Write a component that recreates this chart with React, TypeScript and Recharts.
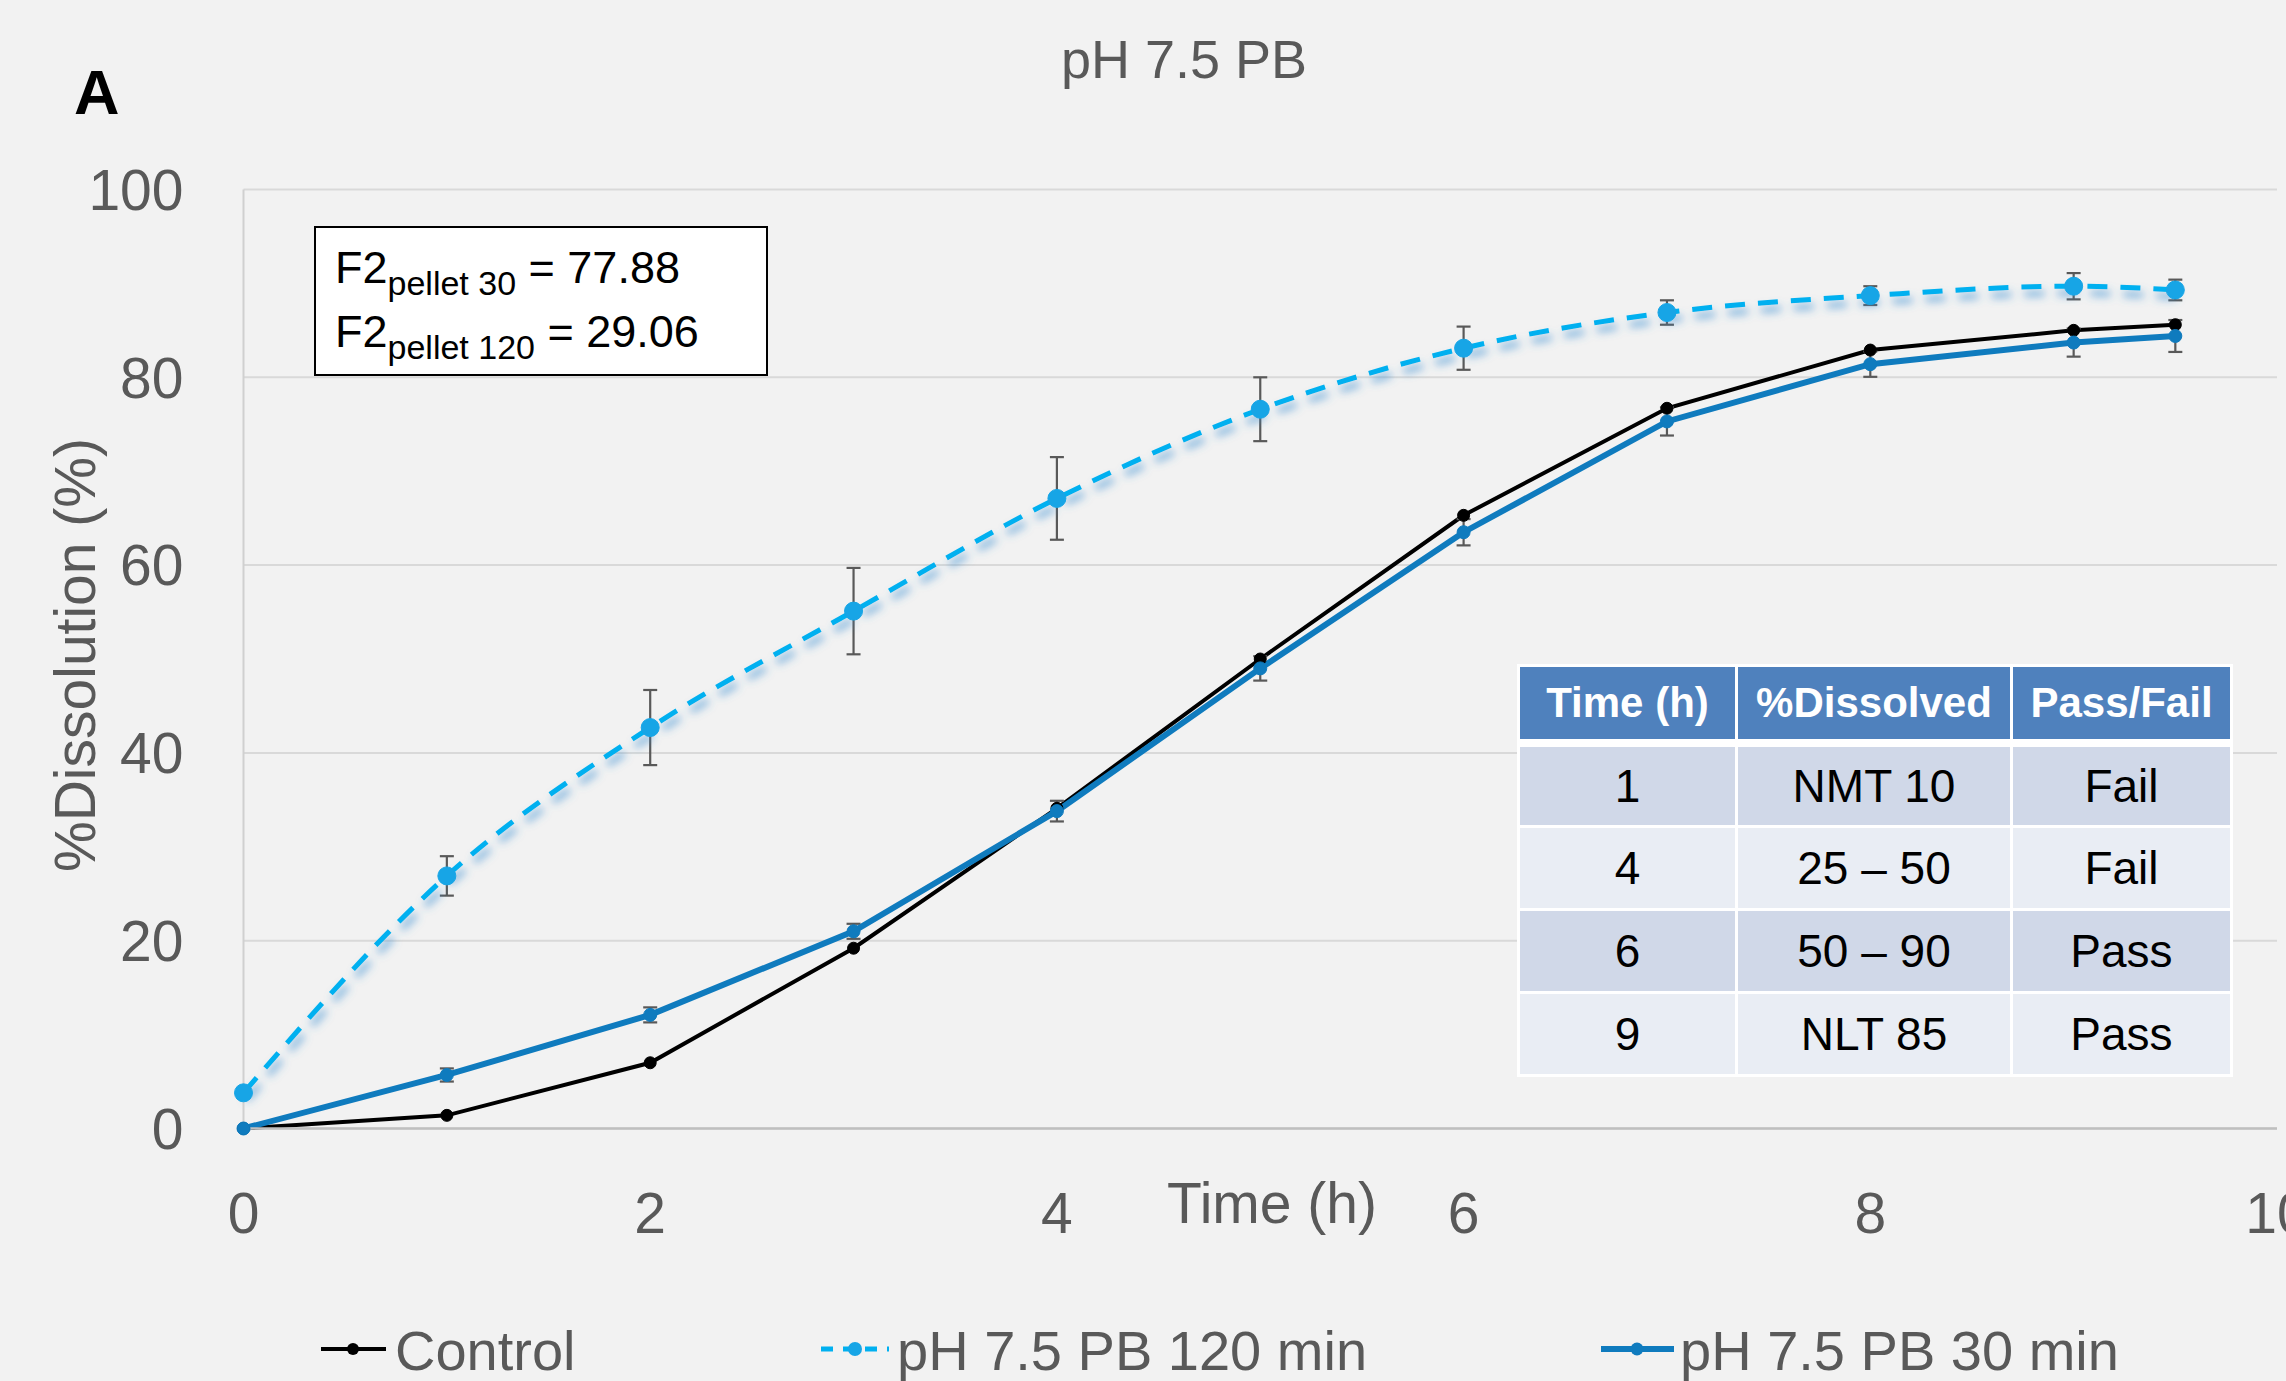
import React from "react";
import {
  LineChart,
  Line,
  XAxis,
  YAxis,
  CartesianGrid,
  ErrorBar,
} from "recharts";

// dissolution time points (h)
const times = [0, 1, 2, 3, 4, 5, 6, 7, 8, 9, 9.5];
const control = [0, 1.4, 7.0, 19.2, 34.1, 50.0, 65.3, 76.7, 82.9, 85.0, 85.6];
const ph120 = [3.8, 26.9, 42.7, 55.1, 67.1, 76.6, 83.1, 86.9, 88.7, 89.7, 89.3];
const ph120Err = [0.5, 2.1, 4.0, 4.6, 4.4, 3.4, 2.3, 1.3, 1.0, 1.4, 1.1];
const ph30 = [0, 5.7, 12.1, 21.0, 33.8, 49.0, 63.5, 75.3, 81.4, 83.7, 84.4];
const ph30Err = [0, 0.7, 0.8, 0.8, 1.1, 1.3, 1.4, 1.5, 1.35, 1.5, 1.7];

const seriesNames = ["Control", "pH 7.5 PB 120 min", "pH 7.5 PB 30 min"];
const xTicks = [0, 2, 4, 6, 8, 10];
const yTicks = [0, 20, 40, 60, 80, 100];

// spec table
const tableHeaders = ["Time (h)", "%Dissolved", "Pass/Fail"];
const tableTimes = ["1", "4", "6", "9"];
const tableDissolved = ["NMT 10", "25 – 50", "50 – 90", "NLT 85"];
const tablePassFail = ["Fail", "Fail", "Pass", "Pass"];

const f2Labels = ["pellet 30", "pellet 120"];
const f2Values = ["77.88", "29.06"];

const data = times.map((t, i) => ({
  t,
  control: control[i],
  p120: ph120[i],
  e120: ph120Err[i],
  p30: ph30[i],
  e30: ph30Err[i],
}));

const FONT = "'Liberation Sans', Arial, sans-serif";
const GREY = "#595959";
const DARK_BLUE = "#0F7BBE";
const LIGHT_BLUE = "#00B0F0";
const DOT_BLUE = "#17A5E6";

const colWidths = [215, 272, 217];

const App: React.FC = () => {
  const rows = tableTimes.map((t, i) => [t, tableDissolved[i], tablePassFail[i]]);
  return (
    <div
      style={{
        position: "absolute",
        left: 0,
        top: 0,
        width: 2286,
        height: 1381,
        background: "#F2F2F2",
        overflow: "hidden",
        fontFamily: FONT,
      }}
    >
      <style>{`.glow-line .recharts-line-curve, .glow-line .recharts-line-dots { filter: url(#glowF); }`}</style>
      <div style={{ position: "absolute", left: 0, top: 0 }}>
        <LineChart
          width={2286}
          height={1381}
          data={data}
          margin={{ top: 189.5, right: 9, left: 63.5, bottom: 152.5 }}
        >
          <CartesianGrid stroke="#D9D9D9" strokeWidth={2} vertical={false} />
          <XAxis
            type="number"
            dataKey="t"
            domain={[0, 10]}
            ticks={xTicks}
            interval={0}
            height={100}
            tickSize={0}
            tickMargin={64}
            axisLine={{ stroke: "#BFBFBF", strokeWidth: 2.5 }}
            tickLine={false}
            tick={{ fill: GREY, fontSize: 57, fontFamily: FONT }}
          />
          <YAxis
            type="number"
            domain={[0, 100]}
            ticks={yTicks}
            interval={0}
            width={180}
            tickSize={0}
            tickMargin={60}
            axisLine={{ stroke: "#D0D0D0", strokeWidth: 2 }}
            tickLine={false}
            tick={{ fill: GREY, fontSize: 57, fontFamily: FONT }}
          />
          <Line
            dataKey="control"
            stroke="#000000"
            strokeWidth={4}
            dot={{ r: 6, fill: "#000", stroke: "#000", strokeWidth: 1 }}
            activeDot={false}
            isAnimationActive={false}
          />
          <Line
            className="glow-line"
            type="monotone"
            dataKey="p120"
            stroke={LIGHT_BLUE}
            strokeWidth={5}
            strokeDasharray="20 13"
            dot={{ r: 9, fill: DOT_BLUE, stroke: DOT_BLUE, strokeWidth: 1, strokeDasharray: "" }}
            activeDot={false}
            isAnimationActive={false}
          >
            <ErrorBar dataKey="e120" width={7} strokeWidth={2.2} stroke={GREY} direction="y" />
          </Line>
          <Line
            dataKey="p30"
            stroke={DARK_BLUE}
            strokeWidth={6}
            dot={{ r: 6.5, fill: DARK_BLUE, stroke: DARK_BLUE, strokeWidth: 1 }}
            activeDot={false}
            isAnimationActive={false}
          >
            <ErrorBar dataKey="e30" width={7} strokeWidth={2.2} stroke={GREY} direction="y" />
          </Line>
        </LineChart>
      </div>

      <svg
        width={2286}
        height={1381}
        style={{ position: "absolute", left: 0, top: 0, pointerEvents: "none" }}
      >
        <defs>
          <filter id="glowF" filterUnits="userSpaceOnUse" x="0" y="0" width="2286" height="1381">
            <feGaussianBlur in="SourceAlpha" stdDeviation="4" result="b" />
            <feOffset in="b" dx="3" dy="7" result="o" />
            <feFlood floodColor="#3A8ED2" floodOpacity="0.75" result="c" />
            <feComposite in="c" in2="o" operator="in" result="s" />
            <feMerge>
              <feMergeNode in="s" />
              <feMergeNode in="SourceGraphic" />
            </feMerge>
          </filter>
        </defs>

        <text x={74} y={114} fontSize={63} fontWeight="bold" fill="#000" fontFamily={FONT}>
          A
        </text>
        <text x={1184} y={78} fontSize={54} fill={GREY} textAnchor="middle" fontFamily={FONT}>
          pH 7.5 PB
        </text>
        <text
          x={0}
          y={0}
          transform="translate(75,655) rotate(-90)"
          fontSize={57}
          fill={GREY}
          textAnchor="middle"
          dominantBaseline="central"
          fontFamily={FONT}
        >
          %Dissolution (%)
        </text>
        <text x={1272} y={1223} fontSize={57} fill={GREY} textAnchor="middle" fontFamily={FONT}>
          Time (h)
        </text>

        {/* F2 box */}
        <rect x={315} y={227} width={452} height={148} fill="#FFFFFF" stroke="#000" strokeWidth={2} />
        {f2Labels.map((lab, i) => (
          <text key={lab} x={335} y={283 + i * 64} fontSize={45} fill="#000" fontFamily={FONT}>
            F2
            <tspan fontSize={34} dy={12}>
              {lab}
            </tspan>
            <tspan dy={-12}>{` = ${f2Values[i]}`}</tspan>
          </text>
        ))}

        {/* legend */}
        <line x1={321} y1={1349} x2={386} y2={1349} stroke="#000" strokeWidth={4} />
        <circle cx={353} cy={1349} r={6} fill="#000" />
        <text x={395} y={1370} fontSize={56} fill={GREY} fontFamily={FONT}>
          {seriesNames[0]}
        </text>
        <line
          x1={821}
          y1={1349}
          x2={889}
          y2={1349}
          stroke={LIGHT_BLUE}
          strokeWidth={5}
          strokeDasharray="12 10"
        />
        <circle cx={855} cy={1349} r={7} fill={DOT_BLUE} />
        <text x={897} y={1370} fontSize={56} fill={GREY} fontFamily={FONT}>
          {seriesNames[1]}
        </text>
        <line x1={1601} y1={1349} x2={1674} y2={1349} stroke={DARK_BLUE} strokeWidth={6} />
        <circle cx={1637} cy={1349} r={6.5} fill={DARK_BLUE} />
        <text x={1680} y={1370} fontSize={56} fill={GREY} fontFamily={FONT}>
          {seriesNames[2]}
        </text>
      </svg>

      {/* spec table */}
      <div
        style={{
          position: "absolute",
          left: 1517,
          top: 664,
          background: "#FFFFFF",
          padding: 3,
          display: "flex",
          flexDirection: "column",
          gap: 3,
        }}
      >
        <div style={{ display: "flex", gap: 3, marginBottom: 5 }}>
          {tableHeaders.map((h, j) => (
            <div
              key={h}
              style={{
                width: colWidths[j],
                height: 72,
                background: "#4F81BD",
                color: "#FFFFFF",
                fontWeight: "bold",
                fontSize: 42,
                display: "flex",
                alignItems: "center",
                justifyContent: "center",
              }}
            >
              {h}
            </div>
          ))}
        </div>
        {rows.map((r, i) => (
          <div key={i} style={{ display: "flex", gap: 3 }}>
            {r.map((c, j) => (
              <div
                key={j}
                style={{
                  width: colWidths[j],
                  height: i === 0 ? 78 : 80,
                  background: i % 2 === 0 ? "#D0D8E8" : "#E9EDF4",
                  color: "#000",
                  fontSize: 46,
                  display: "flex",
                  alignItems: "center",
                  justifyContent: "center",
                }}
              >
                {c}
              </div>
            ))}
          </div>
        ))}
      </div>
    </div>
  );
};

export default App;
